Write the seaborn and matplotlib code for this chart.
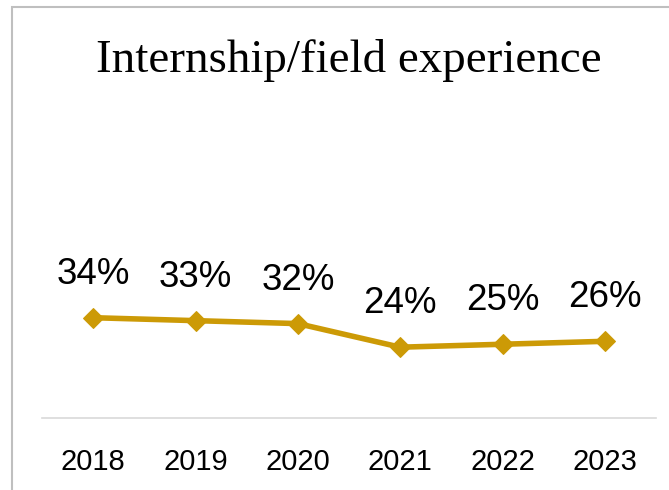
import matplotlib
matplotlib.use("Agg")
import matplotlib.pyplot as plt
import seaborn as sns
import pandas as pd
from matplotlib.patches import Rectangle

# Chart data
years = ["2018", "2019", "2020", "2021", "2022", "2023"]
share = [0.34, 0.33, 0.32, 0.24, 0.25, 0.26]
title = "Internship/field experience"

line_color = "#CC9A06"

sns.set_theme(style="white")
plt.rcParams["font.family"] = ["Liberation Sans", "DejaVu Sans"]

df = pd.DataFrame({"year": years, "share": share})

fig = plt.figure(figsize=(6.69, 4.90), dpi=100)
ax = fig.add_axes([42 / 669, 72 / 490, 614 / 669, 295 / 490])

sns.lineplot(data=df, x="year", y="share", ax=ax, color=line_color,
             linewidth=4.0, marker="D", markersize=10.5,
             markeredgecolor=line_color, markerfacecolor=line_color)

# data labels above each point
for i, v in enumerate(share):
    ax.annotate(f"{v:.0%}", xy=(i, v), xytext=(0, 24.5), textcoords="offset points",
                ha="center", va="baseline", fontsize=26.5, color="black")

ax.set_xlim(-0.5, len(years) - 0.5)
ax.set_ylim(0, 1.0)
ax.set_xlabel("")
ax.set_ylabel("")
ax.set_yticks([])
ax.tick_params(axis="x", length=0, pad=21.4, labelsize=21, labelcolor="black")

for side in ["top", "left", "right"]:
    ax.spines[side].set_visible(False)
ax.spines["bottom"].set_color("#D9D9D9")
ax.spines["bottom"].set_linewidth(1.2)

# title in serif like the original
fig.text(349 / 669, 1 - 72 / 490, title, ha="center", va="baseline",
         fontsize=33.8, family=["Liberation Serif", "DejaVu Serif"], color="black")

# chart frame (runs off the right and bottom edges)
frame = Rectangle((12 / 669, -0.2), 1.0, 1.2 - 7 / 490, transform=fig.transFigure,
                  fill=False, edgecolor="#BFBFBF", linewidth=1.5)
fig.patches.append(frame)

fig.savefig("out.png", dpi=100)
